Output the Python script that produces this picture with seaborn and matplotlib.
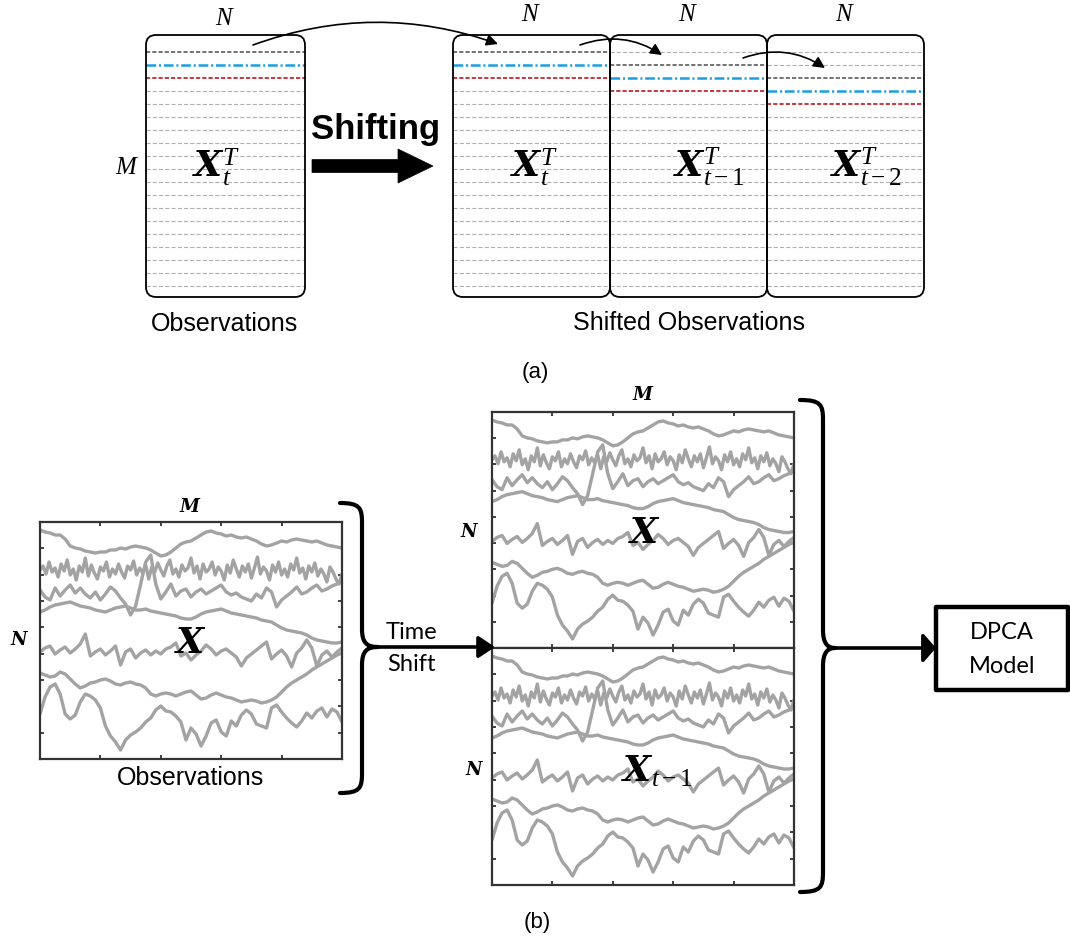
import numpy as np
import matplotlib
matplotlib.use('Agg')
import matplotlib.pyplot as plt
import seaborn as sns
from matplotlib.patches import FancyBboxPatch, FancyArrowPatch, FancyArrow, Rectangle, PathPatch
from matplotlib.path import Path

# seven signals: depth below the top of the plot
trace1 = [8, 10, 11, 13, 13, 17, 24, 26, 27, 29, 30, 31, 30, 30, 28, 28, 26, 27, 25, 24, 25,
          26, 28, 31, 34, 33, 30, 26, 22, 20, 19, 16, 13, 10, 9, 11, 12, 14, 13, 15, 16,
          15, 17, 19, 22, 24, 23, 21, 19, 20, 18, 17, 18, 19, 20, 19, 21, 23, 24, 25, 26]
trace2 = [48, 44, 52, 40, 50, 46, 55, 42, 49, 38, 53, 47, 58, 44, 50, 36, 54, 43, 51, 57, 45,
          49, 40, 55, 47, 52, 42, 50, 56, 44, 48, 39, 53, 46, 51, 43, 57, 45, 50, 41, 48,
          54, 44, 38, 52, 47, 55, 43, 49, 46, 36, 51, 44, 57, 42, 50, 47, 40, 53, 45, 49,
          58, 43, 51, 38, 47, 55, 44, 50, 42, 56, 46, 35, 52, 45, 49, 58, 43, 50, 40, 53,
          47, 55, 42, 48, 36, 51, 46, 57, 44, 50, 41, 54, 47, 52, 60, 45, 50, 57, 62, 52]
trace3 = [68, 75, 78, 66, 74, 68, 63, 71, 66, 72, 76, 70, 78, 72, 65, 69, 76, 82, 93, 84, 62,
          40, 33, 62, 77, 70, 62, 74, 69, 67, 75, 70, 67, 72, 69, 66, 63, 70, 73, 71, 75,
          77, 79, 72, 76, 66, 70, 85, 78, 74, 70, 65, 72, 70, 66, 63, 69, 67, 64, 62, 58]
trace4 = [90, 88, 85, 83, 82, 81, 80, 82, 84, 85, 86, 88, 89, 90, 88, 86, 85, 84, 86, 88, 88,
          87, 89, 90, 91, 92, 93, 94, 96, 97, 97, 95, 92, 90, 89, 88, 87, 89, 91, 92, 93,
          94, 95, 96, 98, 99, 100, 103, 106, 108, 109, 110, 111, 113, 116, 118, 119, 120, 121, 121, 120]
trace5 = [130, 126, 124, 132, 128, 125, 131, 127, 122, 112, 134, 130, 127, 133, 129, 124, 143,
          130, 127, 136, 131, 128, 133, 129, 132, 127, 125, 121, 134, 131, 138, 133, 129, 123,
          127, 133, 129, 127, 131, 135, 144, 136, 132, 128, 124, 120, 137, 132, 128, 134, 145,
          131, 126, 118, 126, 144, 133, 129, 135, 130, 126]
trace6 = [151, 153, 155, 154, 150, 152, 157, 162, 166, 164, 161, 160, 158, 157, 159, 162, 163,
          161, 160, 162, 163, 166, 172, 174, 172, 171, 172, 174, 172, 170, 169, 173, 177, 176,
          173, 171, 173, 175, 176, 178, 180, 179, 178, 179, 181, 180, 178, 175, 170, 165, 161,
          158, 155, 152, 148, 145, 142, 139, 136, 133, 131]
trace7 = [192, 175, 165, 162, 172, 192, 197, 193, 180, 172, 174, 178, 186, 204, 214, 220, 228,
          218, 213, 210, 206, 200, 196, 188, 184, 189, 190, 194, 200, 218, 206, 212, 224, 214,
          201, 198, 210, 214, 199, 204, 193, 188, 192, 202, 204, 206, 186, 183, 190, 196, 201,
          205, 199, 191, 196, 189, 186, 195, 187, 190, 200]
traces = [trace1, trace2, trace3, trace4, trace5, trace6, trace7]

# panel (a): how far each block is shifted, and its label
box_shifts = [0, 0, 1, 2]
box_labels = [r'$\mathbfit{X}_t^T$', r'$\mathbfit{X}_t^T$',
              r'$\mathbfit{X}_{t-1}^T$', r'$\mathbfit{X}_{t-2}^T$']
n_rows = 19

sns.set_theme(style='white')
plt.rcParams['font.family'] = ['Liberation Sans', 'DejaVu Sans']
plt.rcParams['text.color'] = 'black'
plt.rcParams['mathtext.fontset'] = 'custom'
plt.rcParams['mathtext.rm'] = 'Liberation Serif'
plt.rcParams['mathtext.it'] = 'Liberation Serif:italic'
plt.rcParams['mathtext.bfit'] = 'DejaVu Serif:italic:bold'
plt.rcParams['mathtext.fallback'] = 'stix'
plt.rcParams['lines.scale_dashes'] = False

W, H = 1070, 946
fig = plt.figure(figsize=(W / 100, H / 100), dpi=100)
fig.patch.set_facecolor('white')


def signal_axes(x0, y0, x1, y1):
    ax = fig.add_axes([x0 / W, 1 - y1 / H, (x1 - x0) / W, (y1 - y0) / H])
    for t in traces:
        sns.lineplot(x=np.linspace(0, 300, len(t)), y=t, ax=ax, color='#a3a3a3', lw=2.4)
    ax.set_xlim(0, 300)
    ax.set_ylim(237, 0)
    ax.set_xticks([60, 120, 180, 240])
    ax.set_yticks(np.arange(1, 9) * 237 / 9)
    ax.set_xticklabels([])
    ax.set_yticklabels([])
    ax.set_xlabel('')
    ax.set_ylabel('')
    ax.tick_params(direction='in', length=3, width=1.3, color='#333333',
                   top=True, bottom=True, left=True, right=True)
    for s in ax.spines.values():
        s.set_visible(True)
        s.set_color('#333333')
        s.set_linewidth(1.6)
    return ax


signal_axes(40, 522, 342, 759)
signal_axes(492, 412, 794, 648)
signal_axes(492, 648, 794, 885)

ov = fig.add_axes([0, 0, 1, 1])
ov.set_xlim(0, W)
ov.set_ylim(H, 0)
ov.axis('off')
ov.patch.set_alpha(0)

# ---- panel (a)
box_x = [(146, 305), (453, 610), (610, 767), (767, 924)]
top, bot = 35, 297
for (x0, x1), sh in zip(box_x, box_shifts):
    for k in range(n_rows):
        y = 52 + 13 * k
        r = k - sh
        if r == 0:
            ov.plot([x0, x1], [y, y], color='#4d4d4d', lw=1.1, ls=(0, (3, 1.5)))
        elif r == 1:
            ov.plot([x0, x1], [y, y], color='#1c9fe0', lw=1.8, ls=(0, (7, 2, 1.5, 2)))
        elif r == 2:
            ov.plot([x0, x1], [y, y], color='#c0141c', lw=1.2, ls=(0, (3, 1.5)))
        else:
            ov.plot([x0, x1], [y, y], color='#b0b0b0', lw=0.8, ls=(0, (3, 1.5)))
    ov.add_patch(FancyBboxPatch((x0, top), x1 - x0, bot - top,
                                boxstyle='round,pad=0,rounding_size=10',
                                fc='none', ec='black', lw=1.3, zorder=3))
    ov.text((x0 + x1) / 2, 14 if x0 > 400 else 18, r'$N$', fontsize=18, ha='center', va='center')

ov.text(216, 167, box_labels[0], fontsize=26, ha='center', va='center')
ov.text(534, 167, box_labels[1], fontsize=26, ha='center', va='center')
ov.text(709, 167, box_labels[2], fontsize=26, ha='center', va='center')
ov.text(866, 167, box_labels[3], fontsize=26, ha='center', va='center')
ov.text(127, 167, r'$M$', fontsize=18, ha='center', va='center')

ov.text(376, 130, 'Shifting', fontsize=25, weight='bold', ha='center', va='center')
ov.add_patch(FancyArrow(312, 166, 121, 0, width=13, head_width=34, head_length=35,
                        length_includes_head=True, fc='black', ec='black', lw=0.5))

for a, b, rad in [((253, 45), (498, 44), -0.18), ((580, 45), (662, 55), -0.25),
                  ((743, 58), (825, 68), -0.25)]:
    ov.add_patch(FancyArrowPatch(a, b, connectionstyle=f'arc3,rad={rad}', arrowstyle='-|>',
                                 mutation_scale=17, lw=1.2, color='black',
                                 shrinkA=0, shrinkB=0, zorder=4))

ov.text(225, 324, 'Observations', fontsize=18, ha='center', va='center')
ov.text(689, 323, 'Shifted Observations', fontsize=18, ha='center', va='center')
ov.text(535, 372, '(a)', fontsize=16, ha='center', va='center')

# ---- panel (b)
ov.text(190, 507, r'$\mathbfit{M}$', fontsize=13, ha='center', va='center')
ov.text(20, 640, r'$\mathbfit{N}$', fontsize=13, ha='center', va='center')
ov.text(191, 643, r'$\mathbfit{X}$', fontsize=26, ha='center', va='center')
ov.text(191, 778, 'Observations', fontsize=18, ha='center', va='center')

ov.text(643, 395, r'$\mathbfit{M}$', fontsize=13, ha='center', va='center')
ov.text(470, 532, r'$\mathbfit{N}$', fontsize=13, ha='center', va='center')
ov.text(475, 770, r'$\mathbfit{N}$', fontsize=13, ha='center', va='center')
ov.text(645, 533, r'$\mathbfit{X}$', fontsize=26, ha='center', va='center')
ov.text(657, 772, r'$\mathbfit{X}_{t-1}$', fontsize=26, ha='center', va='center')


def brace(x0, xv, xt, yt, ym, yb, lw=3):
    verts = [(x0, yt), (xv - 2, yt), (xv, yt + 5), (xv, yt + 20),
             (xv, ym - 18),
             (xv, ym - 4), (xv + 5, ym), (xt, ym),
             (xv + 5, ym), (xv, ym + 4), (xv, ym + 18),
             (xv, yb - 20),
             (xv, yb - 5), (xv - 2, yb), (x0, yb)]
    codes = [Path.MOVETO, Path.CURVE4, Path.CURVE4, Path.CURVE4,
             Path.LINETO,
             Path.CURVE4, Path.CURVE4, Path.CURVE4,
             Path.CURVE4, Path.CURVE4, Path.CURVE4,
             Path.LINETO,
             Path.CURVE4, Path.CURVE4, Path.CURVE4]
    ov.add_patch(PathPatch(Path(verts, codes), fc='none', ec='black', lw=lw,
                           capstyle='round', joinstyle='round'))


brace(340, 362, 378, 503, 647, 793)
brace(800, 823, 835, 400, 648, 892)

ov.add_patch(FancyArrowPatch((377, 647), (495, 647),
                             arrowstyle='-|>,head_length=0.45,head_width=0.3',
                             mutation_scale=22, lw=2.6, color='black', shrinkA=0, shrinkB=0))
ov.text(411, 632, 'Time', fontsize=17, family=['Lato', 'DejaVu Sans'], ha='center', va='center')
ov.text(411, 664, 'Shift', fontsize=17, family=['Lato', 'DejaVu Sans'], ha='center', va='center')

ov.add_patch(FancyArrowPatch((834, 648), (936, 648),
                             arrowstyle='-|>,head_length=0.35,head_width=0.4',
                             mutation_scale=22, lw=2.6, color='black', shrinkA=0, shrinkB=0))
ov.add_patch(Rectangle((936, 607), 132, 83, fc='white', ec='black', lw=3.2, joinstyle='round'))
ov.text(1002, 632, 'DPCA', fontsize=17, family=['Lato', 'DejaVu Sans'], ha='center', va='center')
ov.text(1002, 666, 'Model', fontsize=17, family=['Lato', 'DejaVu Sans'], ha='center', va='center')

ov.text(537, 922, '(b)', fontsize=16, ha='center', va='center')

fig.savefig('out.png', dpi=100, facecolor='white')
